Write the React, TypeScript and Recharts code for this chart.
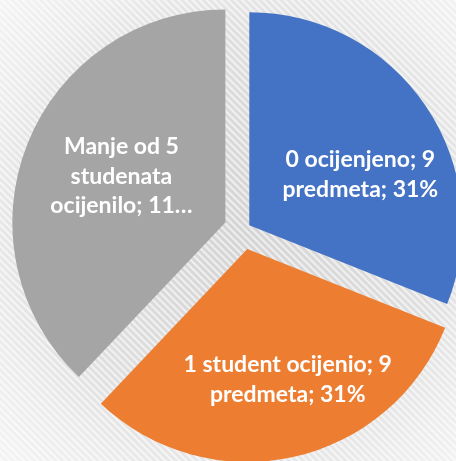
import React from "react";
import { PieChart, Pie, Cell } from "recharts";

const categories = ["0 ocijenjeno", "1 student ocijenio", "Manje od 5 studenata ocijenilo"];
const counts = [9, 9, 11];
const colors = ["#4472C4", "#ED7D31", "#A5A5A5"];
const labelLines = [
  ["0 ocijenjeno; 9", "predmeta; 31%"],
  ["1 student ocijenio; 9", "predmeta; 31%"],
  ["Manje od 5", "studenata", "ocijenilo; 11…"],
];

// layout / style (not data)
const W = 456;
const H = 461;
const CX = 243;
const CY = 229.5;
const R = 213;
const explode = [7.6, 20, 19];
const labelPos = [
  { f: 0.576, da: -9 },
  { f: 0.634, da: 5 },
  { f: 0.537, da: -3 },
];
const RAD = Math.PI / 180;

const data = categories.map((name, i) => ({ name, value: counts[i] }));
const total = counts.reduce((a, b) => a + b, 0);

function midAngleOf(i: number) {
  let cum = 0;
  for (let k = 0; k < i; k++) cum += counts[k];
  return 90 - (360 * (cum + counts[i] / 2)) / total;
}

function makeLabel(visible: number) {
  return (props: any) => {
    const { cx, cy, midAngle, outerRadius, index } = props;
    if (index !== visible) return null;
    const lp = labelPos[index];
    const a = (midAngle + lp.da) * RAD;
    const r = outerRadius * lp.f;
    const x = cx + r * Math.cos(a);
    const y = cy - r * Math.sin(a);
    const lines = labelLines[index];
    const lh = 29.5;
    const y0 = y - ((lines.length - 1) * lh) / 2;
    return (
      <text
        x={x}
        y={y0}
        textAnchor="middle"
        dominantBaseline="central"
        fill="#ffffff"
        style={{ fontFamily: "Lato, 'Open Sans', sans-serif", fontWeight: 700, fontSize: 23 }}
      >
        {lines.map((ln, j) => (
          <tspan key={j} x={x} y={y0 + j * lh} dominantBaseline="central">
            {ln}
          </tspan>
        ))}
      </text>
    );
  };
}

export default function App() {
  return (
    <div style={{ position: "fixed", left: 0, top: 0, width: W, height: H, overflow: "hidden" }}>
      <svg width={W} height={H} style={{ position: "absolute", left: 0, top: 0 }}>
        <defs>
          <radialGradient id="bg" cx={CX} cy={CY} r={330} gradientUnits="userSpaceOnUse">
            <stop offset="0" stopColor="#d3d3d3" />
            <stop offset="0.6" stopColor="#dedede" />
            <stop offset="0.8" stopColor="#ebebeb" />
            <stop offset="1" stopColor="#f3f3f3" />
          </radialGradient>
          <pattern id="stripes" width={5} height={5} patternUnits="userSpaceOnUse" patternTransform="rotate(-45)">
            <rect x={0} y={0} width={2.2} height={5} fill="#ffffff" fillOpacity={0.6} />
          </pattern>
        </defs>
        <rect x={0} y={0} width={W} height={H} fill="url(#bg)" />
        <rect x={0} y={0} width={W} height={H} fill="url(#stripes)" />
      </svg>
      <div style={{ position: "absolute", left: 0, top: 0 }}>
        <PieChart width={W} height={H} margin={{ top: 0, right: 0, bottom: 0, left: 0 }}>
          {counts.map((_, vi) => {
            const m = midAngleOf(vi) * RAD;
            const cx = CX + explode[vi] * Math.cos(m);
            const cy = CY - explode[vi] * Math.sin(m);
            return (
              <Pie
                key={vi}
                data={data}
                dataKey="value"
                nameKey="name"
                cx={cx}
                cy={cy}
                innerRadius={0}
                outerRadius={R}
                startAngle={90}
                endAngle={-270}
                stroke="none"
                isAnimationActive={false}
                labelLine={false}
                label={makeLabel(vi)}
              >
                {data.map((d, i) => (
                  <Cell key={d.name} fill={i === vi ? colors[i] : "transparent"} stroke="none" />
                ))}
              </Pie>
            );
          })}
        </PieChart>
      </div>
    </div>
  );
}
